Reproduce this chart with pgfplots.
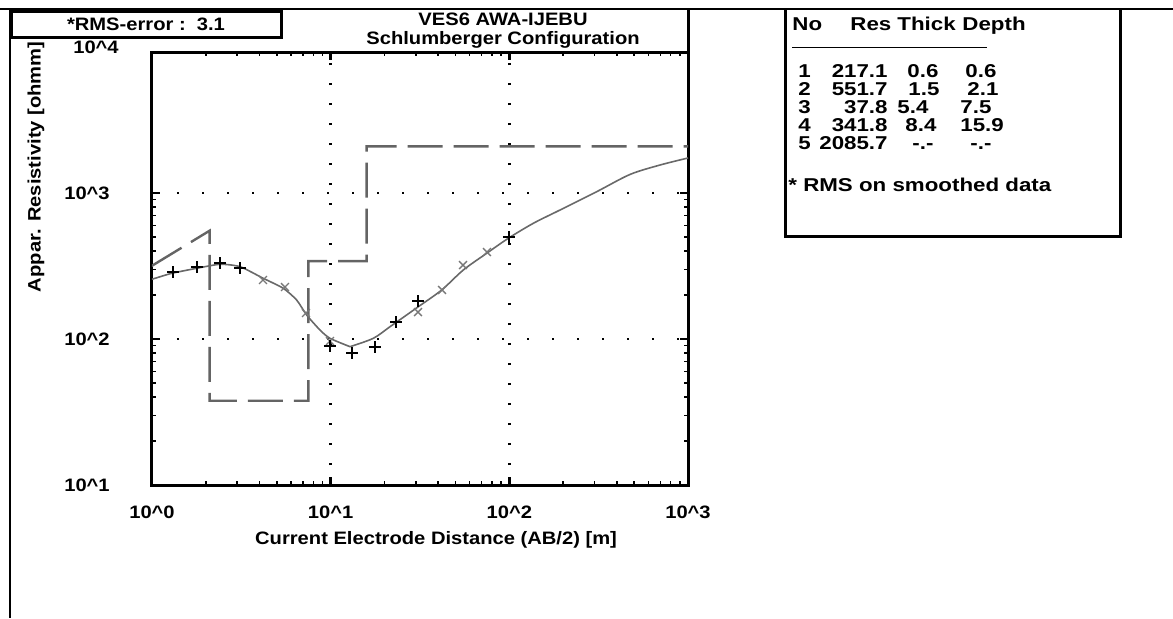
\documentclass[border=0pt]{standalone}
\usepackage{fontspec}
\setmainfont{Liberation Sans}[FakeStretch=1.12]
\newfontfamily\tablefont{Liberation Sans}[FakeStretch=1.2]
\usepackage{pgfplots}
\pgfplotsset{compat=1.18}

\definecolor{modelgray}{RGB}{100,100,100}
\definecolor{curvegray}{RGB}{105,105,105}
\definecolor{xgray}{RGB}{120,120,120}

\newcommand{\lbl}{\bfseries\fontsize{9pt}{11pt}\selectfont}
\newcommand{\tbl}{\tablefont\bfseries\fontsize{9.3pt}{11pt}\selectfont}

\begin{document}
\begin{tikzpicture}
\useasboundingbox (0,0) rectangle (586.5pt,-309pt);

% page frame, headers and the layer table (1 unit = 0.5pt, y downwards)
\begin{scope}[x=0.5pt,y=-0.5pt]
  \draw[line width=1pt] (0,8.5) -- (1173,8.5);
  \draw[line width=1pt] (10,8.5) -- (10,618);
  \draw[line width=1.5pt] (11,11) rectangle (281,37);
  \node[font=\lbl] at (146,24) {*RMS-error :\ \ 3.1};
  \draw[line width=1.5pt] (688,8.5) -- (688,52);
  \node[font=\lbl] at (503,19) {VES6 AWA-IJEBU};
  \node[font=\lbl] at (503,40) {Schlumberger Configuration};
  % layer table
  \draw[line width=1.5pt] (785,8.5) -- (785,236) -- (1120,236) -- (1120,8.5);
  \begin{scope}[every node/.style={font=\tbl, inner sep=0pt}]
    \node[anchor=base west] at (792,30.5) {No};
    \node[anchor=base west] at (850,30.5) {Res};
    \node[anchor=base west] at (897,30.5) {Thick};
    \node[anchor=base west] at (962,30.5) {Depth};
    \draw[line width=0.5pt] (792,47) -- (987,47);
    \foreach \lno/\lres/\lthk/\tx/\ldep/\dx/\y in {
        1/217.1/0.6/907/0.6/965/77.5,
        2/551.7/1.5/908/2.1/967/95.5,
        3/37.8/5.4/897/7.5/960/113.5,
        4/341.8/8.4/905/15.9/960/131.5,
        5/2085.7/-.-/912/-.-/970/149.5}{
      \node[anchor=base west] at (798,\y) {\lno};
      \node[anchor=base east] at (888,\y) {\lres};
      \node[anchor=base west] at (\tx,\y) {\lthk};
      \node[anchor=base west] at (\dx,\y) {\ldep};
    }
    \node[anchor=base west] at (788,191.5) {* RMS on smoothed data};
  \end{scope}
\end{scope}

\begin{axis}[
  at={(76pt,-242.5pt)}, anchor=south west,
  scale only axis, width=268pt, height=216.5pt,
  xmode=log, ymode=log,
  xmin=1, xmax=1000, ymin=10, ymax=9243,
  xtick={1,10,100,1000},
  xticklabels={10\textasciicircum 0,10\textasciicircum 1,10\textasciicircum 2,10\textasciicircum 3},
  ytick={10,100,1000},
  yticklabels={10\textasciicircum 1,10\textasciicircum 2,10\textasciicircum 3},
  tick label style={font=\lbl},
  xticklabel style={anchor=center, yshift=-13.5pt},
  yticklabel style={anchor=center, xshift=-32.5pt},
  tick align=inside,
  major tick length=4pt, minor tick length=2pt,
  every major tick/.style={black, line width=1.2pt},
  every minor tick/.style={black, line width=0.8pt},
  axis line style={line width=1.5pt},
  grid=major,
  major x grid style={black, line width=1.2pt, dash pattern=on 1.2pt off 8.8pt},
  major y grid style={black, line width=1.2pt, dash pattern=on 1.2pt off 11.3pt},
  xlabel={Current Electrode Distance (AB/2) [m]},
  ylabel={Appar. Resistivity [ohmm]},
  label style={font=\lbl},
  xlabel style={at={(axis description cs:0.53,0)}, anchor=center, yshift=-27.5pt},
  ylabel style={at={(axis description cs:-0.2165,0.735)}, anchor=center},
  clip mode=individual,
]
% layered model
\addplot[modelgray, line width=1.2pt, dash pattern=on 17.5pt off 5.5pt]
  coordinates {(0.6,217.1) (2.1,551.7) (2.1,37.8) (7.5,37.8) (7.5,341.8)
               (15.9,341.8) (15.9,2085.7) (1000,2085.7)};
% computed apparent resistivity curve
\addplot[curvegray, line width=0.8pt, smooth, tension=0.4] coordinates {
  (1,256.5) (1.289,281.8) (1.779,305) (2.402,324.8) (3.109,312.8)
  (4.197,260.4) (5.431,222.5) (6.453,184.9) (7.341,146.0) (8.716,115.2)
  (9.913,101.1) (12.83,88.6)};
\addplot[curvegray, line width=0.8pt, smooth, tension=0.5] coordinates {
  (12.83,88.6) (17.32,101.1) (21.48,121.4) (30.94,166.4) (41.82,216.6)
  (55.25,296.9) (74.68,386.4) (98.67,489.5) (136.2,620.2) (192.1,764.7)
  (308.3,1021) (473.5,1340) (697,1555) (1000,1737)};
% smoothed field data
\addplot[only marks, mark=x, mark size=2.8pt, xgray, line width=0.7pt] coordinates {
  (4.181,253.6) (5.551,227.1) (7.276,150.7) (9.913,96.9) (30.82,153.0)
  (42.0,216.6) (55.04,321.2) (74.99,394.4)};
% field data
\addplot[only marks, mark=+, mark size=3pt, black, line width=1.4pt] coordinates {
  (1.311,287.6) (1.786,311.3) (2.402,331.5) (3.109,306.4) (9.913,89.6)
  (13.17,80.2) (17.70,88.1) (23.21,130.7) (30.82,182.1) (99.56,499.6)};
\node[font=\lbl] at (axis cs:1,10000) [xshift=-28pt] {10\textasciicircum 4};
\end{axis}
\end{tikzpicture}
\end{document}
